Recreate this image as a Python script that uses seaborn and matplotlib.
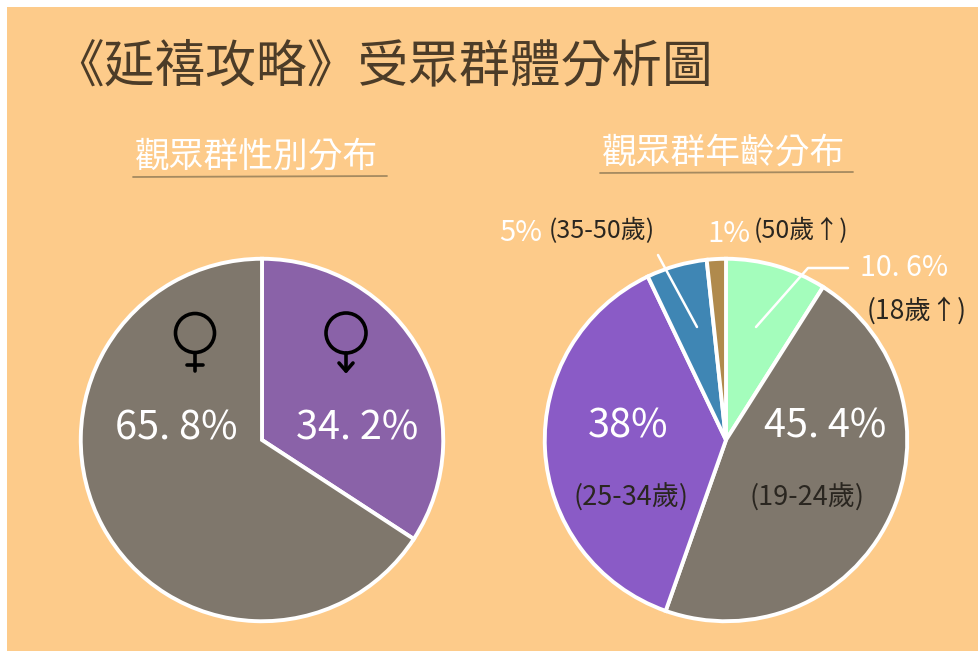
import matplotlib
matplotlib.use("Agg")
import matplotlib.pyplot as plt
from matplotlib.patches import Rectangle, Circle
import seaborn as sns

sns.set_theme(style="white")
plt.rcParams['font.family'] = ['Noto Sans CJK TC', 'DejaVu Sans']

W, H = 979, 659
BG = "#fdcb8a"
INK = "#4c3c28"
DARK = "#2a2620"

title = "《延禧攻略》受眾群體分析圖"
left_title = "觀眾群性別分布"
right_title = "觀眾群年齡分布"

gender_groups = ["male", "female"]
gender_shares = [34.2, 65.8]
gender_colors = ["#8a62a8", "#7f776c"]

age_groups = ["18歲↑", "19-24歲", "25-34歲", "35-50歲", "50歲↑"]
age_slice_shares = [9.0, 46.4, 37.5, 5.4, 1.7]   # slice sizes as drawn in the picture
age_colors = ["#a4fdbc", "#7f776c", "#8a5bc6", "#3f86b4", "#b08a4c"]

fig = plt.figure(figsize=(W / 100, H / 100), dpi=100, facecolor="white")
ov = fig.add_axes([0, 0, 1, 1], zorder=0)
ov.set_xlim(0, W); ov.set_ylim(H, 0); ov.axis("off")
ov.add_patch(Rectangle((7, 7), W - 7, 644, facecolor=BG, edgecolor="none"))


def draw_pie(cx, cy, r, shares, colors):
    ax = fig.add_axes([(cx - r) / W, 1 - (cy + r) / H, 2 * r / W, 2 * r / H], zorder=1)
    ax.pie(shares, colors=colors, startangle=90, counterclock=False, radius=0.985,
           wedgeprops=dict(edgecolor="white", linewidth=2.8))
    ax.set_xlim(-1, 1); ax.set_ylim(-1, 1); ax.axis("off")
    return ax


ax1 = draw_pie(262, 440, 184, gender_shares, gender_colors)
ax2 = draw_pie(726, 440, 184, age_slice_shares, age_colors)

top = fig.add_axes([0, 0, 1, 1], zorder=2)
top.set_xlim(0, W); top.set_ylim(H, 0); top.axis("off")


def T(x, y, s, size, color="white", ha="center", **kw):
    top.text(x, y, s, fontsize=size, color=color, ha=ha, va="center", **kw)


T(383, 67, title, 36.5, INK, weight="medium")
T(257, 157, left_title, 25)
T(724, 153, right_title, 25)
top.plot([133, 387], [177, 176], color="#a58a60", lw=1.3)
top.plot([600, 853], [173, 172], color="#a58a60", lw=1.3)

T(176, 429, "65. 8%", 28.5)
T(357, 429, "34. 2%", 28.5)
T(628, 426, "38%", 28.5)
T(825, 426, "45. 4%", 28.5)
T(631, 498, "(25-34歲)", 19.5, DARK)
T(807, 498, "(19-24歲)", 19.5, DARK)
T(521, 233, "5%", 21)
T(602, 231, "(35-50歲)", 18, DARK)
T(729, 234, "1%", 21)
T(801, 231, "(50歲↑)", 18, DARK)
T(904, 268, "10. 6%", 20.5)
T(917, 311, "(18歲↑)", 19, DARK)

top.plot([658, 697], [255, 327], color="white", lw=1.8)
top.plot([848, 808, 756], [268, 268, 327], color="white", lw=1.8)

# gender symbols
top.add_patch(Circle((195, 333), 19.5, fill=False, edgecolor="black", lw=2.6))
top.plot([195, 195], [353, 371], color="black", lw=2.6)
top.plot([187, 203], [365, 365], color="black", lw=2.6)
top.add_patch(Circle((346, 333), 20, fill=False, edgecolor="black", lw=2.6))
top.plot([346, 346], [353, 371], color="black", lw=2.6)
top.plot([339, 346, 353], [363, 371, 363], color="black", lw=2.6)

fig.savefig("out.png", dpi=100, facecolor="white")
